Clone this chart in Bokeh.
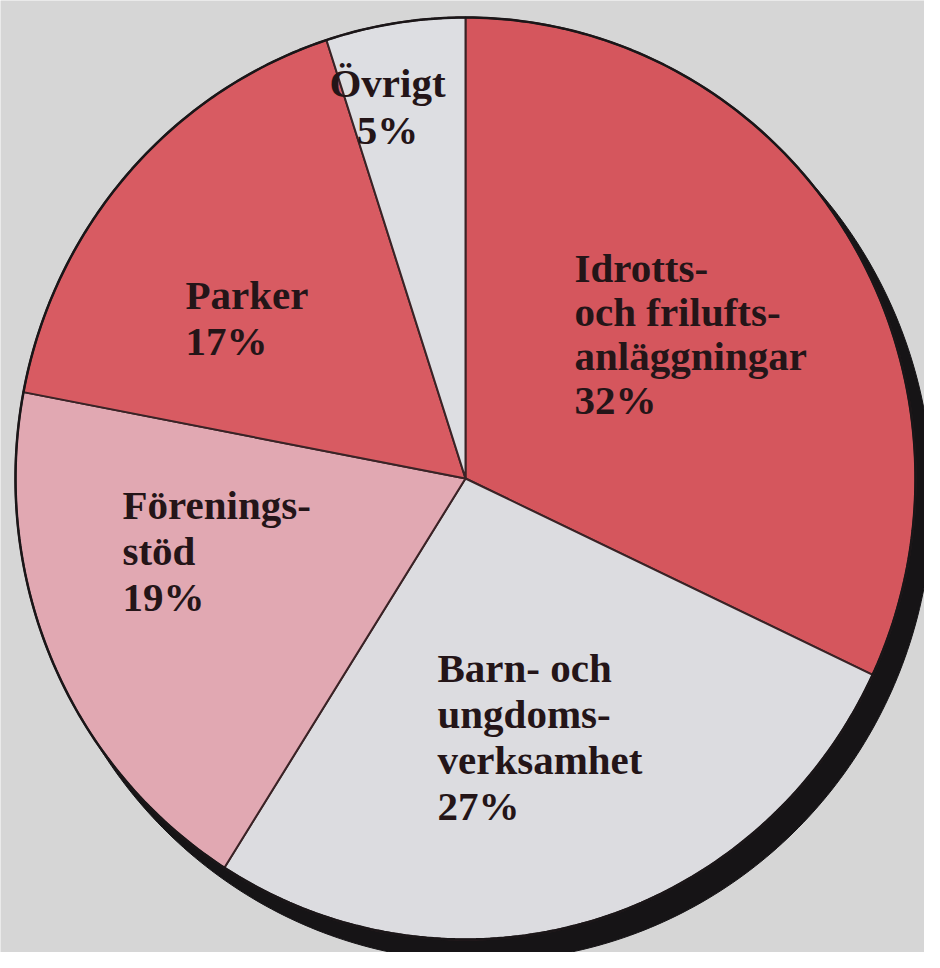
import numpy as np
from bokeh.plotting import figure
from bokeh.models import Range1d
from bokeh.embed import file_html
from bokeh.resources import INLINE
from bokeh.core.properties import value

# ---- data ----
categories = ["Idrotts-\noch frilufts-\nanläggningar", "Barn- och\nungdoms-\nverksamhet",
              "Förenings-\nstöd", "Parker", "Övrigt"]
shares = [32, 27, 19, 17, 5]

# ---- style / layout ----
colors = ["#d5565d", "#dcdce0", "#e1a8b2", "#d85b62", "#dddee2"]
label_anchor_x = [574, 437, 122, 185, 387]      # figure px
label_anchor_y = [267, 667, 504, 294, 82]       # first-line baseline, figure px
label_align = ["left", "left", "left", "left", "center"]
line_step = [44, 46, 46, 46, 47]

W, H = 924, 952
CX, CY = 465, 478
RX, RY = 450, 461
SHADOW_DX, SHADOW_DY = 15, 20

p = figure(width=W, height=H, x_range=Range1d(0, W), y_range=Range1d(H, 0),
           output_backend="svg", toolbar_location=None, min_border=0)
p.axis.visible = False
p.grid.visible = False
p.outline_line_color = None
p.background_fill_color = "#d6d6d6"
p.border_fill_color = "#d6d6d6"

# shadow
t = np.linspace(0, 2 * np.pi, 400)
p.patch(CX + SHADOW_DX + (RX + 2) * np.sin(t), CY + SHADOW_DY - (RY + 2) * np.cos(t),
        fill_color="#161416", line_color="#161416", line_width=1)

# wedges
total = float(sum(shares))
bounds = np.concatenate([[0], np.cumsum(shares)]) / total * 2 * np.pi
xs, ys = [], []
for a0, a1 in zip(bounds[:-1], bounds[1:]):
    a = np.linspace(a0, a1, 200)
    xs.append(np.concatenate([[CX], CX + RX * np.sin(a), [CX]]))
    ys.append(np.concatenate([[CY], CY - RY * np.cos(a), [CY]]))
p.patches(xs, ys, fill_color=colors, line_color="#3a2326", line_width=2, line_join="round")

# outer rim
p.line(CX + RX * np.sin(t), CY - RY * np.cos(t), line_color="#1a1618", line_width=2.5)

# labels
for i, (name, pct) in enumerate(zip(categories, shares)):
    lines = name.split("\n") + [f"{pct}%"]
    lx = [label_anchor_x[i]] * len(lines)
    ly = [label_anchor_y[i] + k * line_step[i] for k in range(len(lines))]
    p.text(lx, ly, text=lines, text_font=value("Liberation Serif"), text_font_style="bold",
           text_font_size="41px", text_color="#241518", text_align=label_align[i],
           text_baseline="alphabetic")

open("out.html", "w").write(file_html(p, INLINE))
